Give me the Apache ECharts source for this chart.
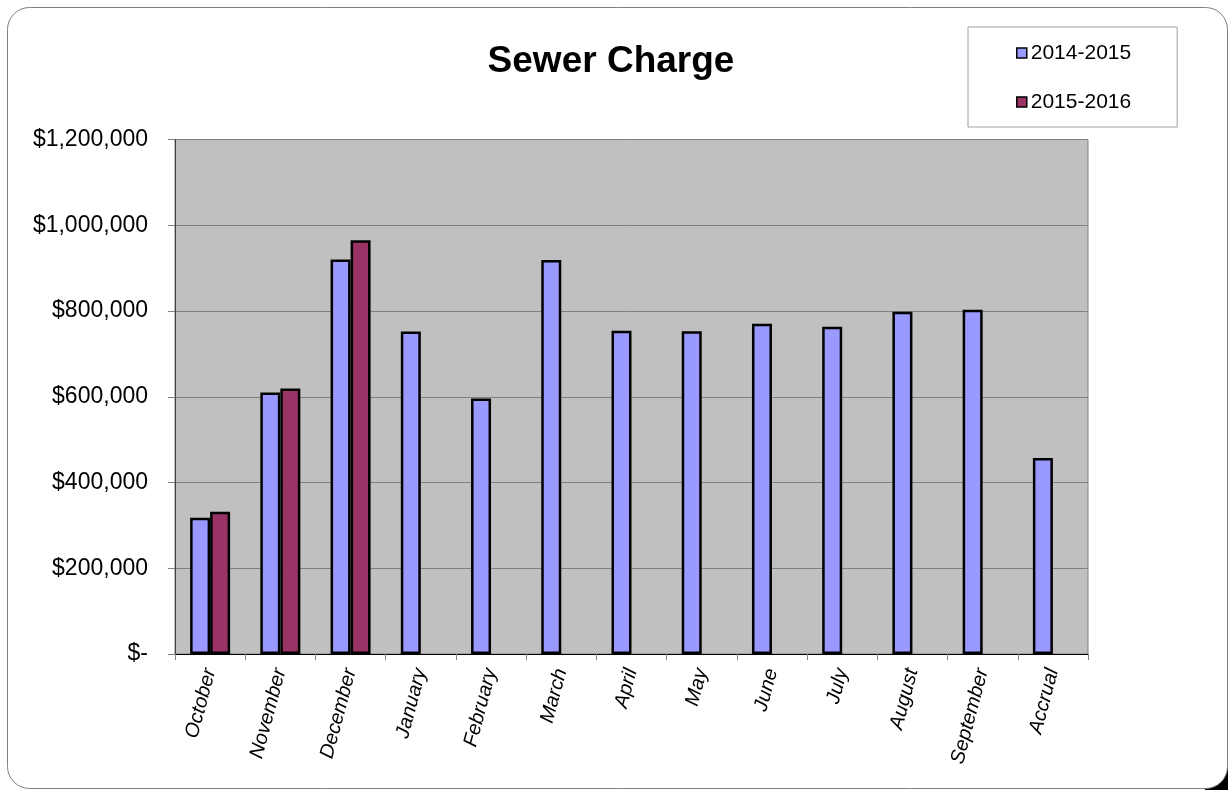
<!DOCTYPE html>
<html>
<head>
<meta charset="utf-8">
<script src="https://cdn.jsdelivr.net/npm/echarts@6/dist/echarts.min.js"></script>
<style>
  html, body { margin: 0; padding: 0; background: #fff; }
  #chart { width: 1228px; height: 790px; }
</style>
</head>
<body>
<div id="chart"></div>
<script>
// Monthly sewer charge receipts by fiscal year
const months = ['October', 'November', 'December', 'January', 'February', 'March',
  'April', 'May', 'June', 'July', 'August', 'September', 'Accrual'];
const fy2014 = [318000, 610000, 920000, 752000, 596000, 919000,
  754000, 753000, 770000, 763000, 798000, 803000, 457000];
const fy2015 = [332000, 619000, 965000, null, null, null,
  null, null, null, null, null, null, null];
const seriesNames = ['2014-2015', '2015-2016'];
const yTicks = { min: 0, max: 1200000, step: 200000 };

const FONT = '"Liberation Sans", Arial, sans-serif';

function money(v) {
  if (v === 0) return '$-';
  return '$' + v.toLocaleString('en-US');
}

const chart = echarts.init(document.getElementById('chart'), null, { renderer: 'canvas' });

chart.setOption({
  animation: false,
  backgroundColor: '#ffffff',
  textStyle: { fontFamily: FONT, color: '#000' },
  graphic: [
    // shadow peeking out at the lower-right corner of the frame
    { type: 'rect', z: -20, silent: true,
      shape: { x: 1205, y: 767, width: 23, height: 23 },
      style: { fill: '#000' } },
    // rounded chart frame
    { type: 'rect', z: -10, silent: true,
      shape: { x: 7.5, y: 7.5, width: 1220, height: 781, r: 22 },
      style: { fill: '#fff', stroke: '#808080', lineWidth: 1 } }
  ],
  title: {
    text: 'Sewer Charge',
    left: 606,
    top: 37,
    textAlign: 'center',
    textStyle: { fontFamily: FONT, fontSize: 37, fontWeight: 'bold', color: '#000', lineHeight: 40 }
  },
  legend: {
    orient: 'vertical',
    left: 968,
    top: 27,
    padding: [15, 46, 14, 48],
    itemGap: 27,
    itemWidth: 10,
    itemHeight: 10,
    icon: 'rect',
    borderColor: '#a0a0a0',
    borderWidth: 1,
    backgroundColor: '#fff',
    textStyle: { fontFamily: FONT, fontSize: 21, color: '#000', lineHeight: 22, padding: [0, 0, 0, -1] },
    itemStyle: { borderColor: '#000', borderWidth: 1.5 },
    data: seriesNames
  },
  grid: {
    left: 175,
    right: 140,
    top: 139.5,
    bottom: 136,
    show: true,
    backgroundColor: '#c0c0c0',
    borderColor: '#808080',
    borderWidth: 1
  },
  xAxis: {
    type: 'category',
    data: months,
    axisLine: { lineStyle: { color: '#000', width: 1 } },
    axisTick: { show: true, length: 6, lineStyle: { color: '#808080' } },
    axisLabel: {
      rotate: 75,
      margin: 15,
      fontFamily: FONT,
      fontSize: 20,
      fontStyle: 'italic',
      color: '#000',
      interval: 0
    }
  },
  yAxis: {
    type: 'value',
    min: yTicks.min,
    max: yTicks.max,
    interval: yTicks.step,
    axisLine: { show: true, lineStyle: { color: '#404040', width: 1 } },
    axisTick: { show: true, length: 7, lineStyle: { color: '#808080' } },
    splitLine: { show: true, lineStyle: { color: '#808080', width: 1 } },
    axisLabel: {
      margin: 27,
      fontFamily: FONT,
      fontSize: 23,
      color: '#000',
      formatter: money
    }
  },
  series: [
    {
      name: seriesNames[0],
      type: 'bar',
      data: fy2014,
      barWidth: 20,
      barGap: '0%',
      itemStyle: { color: '#9999ff', borderColor: '#000', borderWidth: 2.5 }
    },
    {
      name: seriesNames[1],
      type: 'bar',
      data: fy2015,
      barWidth: 20,
      barGap: '0%',
      itemStyle: { color: '#993366', borderColor: '#000', borderWidth: 2.5 }
    }
  ]
});
</script>
</body>
</html>
